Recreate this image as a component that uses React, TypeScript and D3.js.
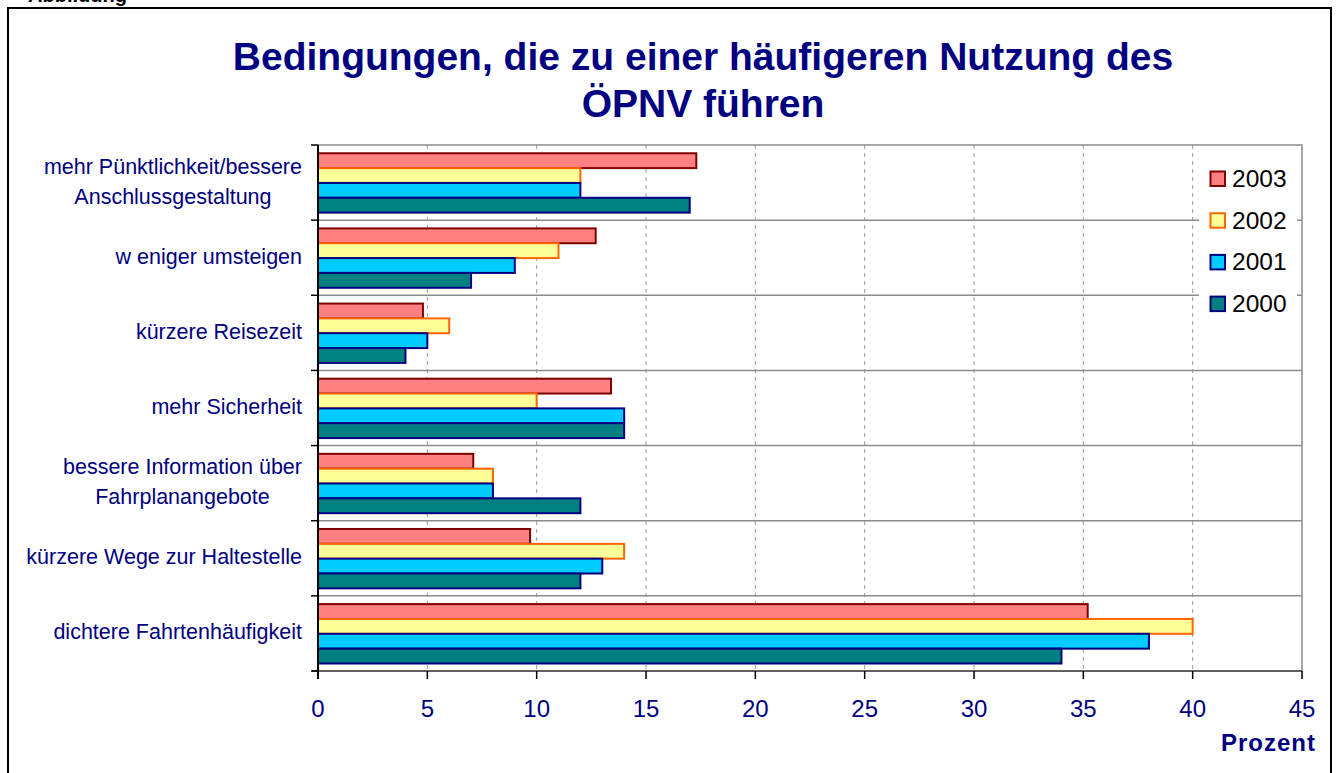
import React, { useEffect, useRef } from "react";
import * as d3 from "d3";

const categories = [
  "mehr Pünktlichkeit/bessere\nAnschlussgestaltung",
  "w eniger umsteigen",
  "kürzere Reisezeit",
  "mehr Sicherheit",
  "bessere Information über\nFahrplanangebote",
  "kürzere Wege zur Haltestelle",
  "dichtere Fahrtenhäufigkeit",
];
const seriesNames = ["2003", "2002", "2001", "2000"];
const values2003 = [17.3, 12.7, 4.8, 13.4, 7.1, 9.7, 35.2];
const values2002 = [12, 11, 6, 10, 8, 14, 40];
const values2001 = [12, 9, 5, 14, 8, 13, 38];
const values2000 = [17, 7, 4, 14, 12, 12, 34];
const xTicks = [0, 5, 10, 15, 20, 25, 30, 35, 40, 45];
const titleLines = ["Bedingungen, die zu einer häufigeren Nutzung des", "ÖPNV führen"];
const xAxisTitle = "Prozent";

const fills = ["#FF8080", "#FFFF99", "#00CCFF", "#008080"];
const strokes = ["#800000", "#FF6600", "#000080", "#000080"];

const FONT = "'Liberation Sans', Arial, Helvetica, sans-serif";
const NAVY = "#000080";

export default function App() {
  const ref = useRef<SVGSVGElement | null>(null);

  useEffect(() => {
    document.body.style.margin = "0";
    document.body.style.overflow = "hidden";
    const svg = d3.select(ref.current!);
    svg.selectAll("*").remove();

    const series = [values2003, values2002, values2001, values2000];
    const left = 318, right = 1302, top = 145, bottom = 671;

    const x = d3.scaleLinear().domain([0, 45]).range([left, right]);
    const y = d3.scaleBand<number>().domain(d3.range(categories.length)).range([top, bottom]).paddingInner(0).paddingOuter(0);
    const inner = d3.scaleBand<number>().domain(d3.range(seriesNames.length))
      .range([y.bandwidth() * 0.11, y.bandwidth() * 0.9]).paddingInner(0).paddingOuter(0);

    svg.append("rect").attr("width", 1337).attr("height", 773).attr("fill", "white");

    // cut-off caption at top
    svg.append("text").attr("x", 28).attr("y", 2).attr("font-family", FONT).attr("font-weight", "bold")
      .attr("font-size", 20).attr("fill", "#000").text("Abbildung");

    // outer frame
    svg.append("rect").attr("x", 8).attr("y", 8).attr("width", 1323).attr("height", 800)
      .attr("fill", "none").attr("stroke", "#000").attr("stroke-width", 2);

    // title
    svg.append("g").selectAll("text").data(titleLines).join("text")
      .attr("x", 703).attr("y", (_, i) => 70 + i * 47)
      .attr("text-anchor", "middle").attr("font-family", FONT).attr("font-weight", "bold")
      .attr("font-size", 39).attr("fill", NAVY).text((d) => d);

    // vertical dashed grid
    svg.append("g").selectAll("line").data(xTicks.filter((t) => t > 0 && t < 45)).join("line")
      .attr("x1", (d) => x(d)).attr("x2", (d) => x(d)).attr("y1", top).attr("y2", bottom)
      .attr("stroke", "#9a9a9a").attr("stroke-width", 1).attr("stroke-dasharray", "4,4");

    // horizontal grid at band boundaries
    svg.append("g").selectAll("line").data(d3.range(1, categories.length)).join("line")
      .attr("x1", left).attr("x2", right).attr("y1", (d) => y(d)!).attr("y2", (d) => y(d)!)
      .attr("stroke", "#8c8c8c").attr("stroke-width", 1.5);

    // plot border
    svg.append("rect").attr("x", left).attr("y", top).attr("width", right - left).attr("height", bottom - top)
      .attr("fill", "none").attr("stroke", "#8c8c8c").attr("stroke-width", 1.5);

    // legend background
    svg.append("rect").attr("x", 1199).attr("y", 160).attr("width", 98).attr("height", 162).attr("fill", "white");

    // bars
    categories.forEach((_, ci) => {
      series.forEach((vals, si) => {
        svg.append("rect")
          .attr("x", x(0))
          .attr("y", y(ci)! + inner(si)!)
          .attr("width", x(vals[ci]) - x(0))
          .attr("height", inner.bandwidth())
          .attr("fill", fills[si]).attr("stroke", strokes[si]).attr("stroke-width", 2);
      });
    });

    // axes
    svg.append("line").attr("x1", left - 6).attr("x2", right).attr("y1", bottom).attr("y2", bottom)
      .attr("stroke", "#606060").attr("stroke-width", 2);
    svg.append("line").attr("x1", left).attr("x2", left).attr("y1", top).attr("y2", bottom + 8)
      .attr("stroke", "#000").attr("stroke-width", 2);
    svg.append("g").selectAll("line").data(d3.range(0, categories.length + 1)).join("line")
      .attr("x1", left - 7).attr("x2", left).attr("y1", (d) => top + d * y.step()).attr("y2", (d) => top + d * y.step())
      .attr("stroke", "#000").attr("stroke-width", 1.5);
    svg.append("g").selectAll("line").data(xTicks).join("line")
      .attr("x1", (d) => x(d)).attr("x2", (d) => x(d)).attr("y1", bottom).attr("y2", bottom + 8)
      .attr("stroke", "#000").attr("stroke-width", 1.5);

    // x tick labels
    svg.append("g").selectAll("text").data(xTicks).join("text")
      .attr("x", (d) => x(d)).attr("y", 717).attr("text-anchor", "middle")
      .attr("font-family", FONT).attr("font-size", 24).attr("fill", NAVY).text((d) => String(d));

    svg.append("text").attr("x", 1316).attr("y", 751).attr("text-anchor", "end")
      .attr("font-family", FONT).attr("font-weight", "bold").attr("font-size", 24)
      .attr("letter-spacing", 1).attr("fill", NAVY).text(xAxisTitle);

    // category labels
    categories.forEach((cat, ci) => {
      const lines = cat.split("\n");
      const g = svg.append("g");
      const texts = lines.map((ln) =>
        g.append("text").attr("font-family", FONT).attr("font-size", 21.5).attr("fill", NAVY).text(ln)
      );
      const widths = texts.map((t) => (t.node() as SVGTextElement).getComputedTextLength());
      const maxW = Math.max(...widths);
      const cx = 302 - maxW / 2;
      const cy = y(ci)! + y.bandwidth() / 2;
      texts.forEach((t, i) => {
        t.attr("x", cx).attr("text-anchor", "middle")
          .attr("y", cy + 6 + (i - (lines.length - 1) / 2) * 30);
      });
    });

    // legend
    const lg = svg.append("g");
    seriesNames.forEach((name, si) => {
      const cy = 178.5 + si * 41.7;
      lg.append("rect").attr("x", 1210.5).attr("y", cy - 7).attr("width", 14.5).attr("height", 14.5)
        .attr("fill", fills[si]).attr("stroke", strokes[si]).attr("stroke-width", 2);
      lg.append("text").attr("x", 1232).attr("y", cy + 8.5).attr("font-family", FONT)
        .attr("font-size", 24.5).attr("fill", "#000").text(name);
    });
  }, []);

  return (
    <svg ref={ref} width={1337} height={773} style={{ position: "absolute", left: 0, top: 0, display: "block" }} />
  );
}
